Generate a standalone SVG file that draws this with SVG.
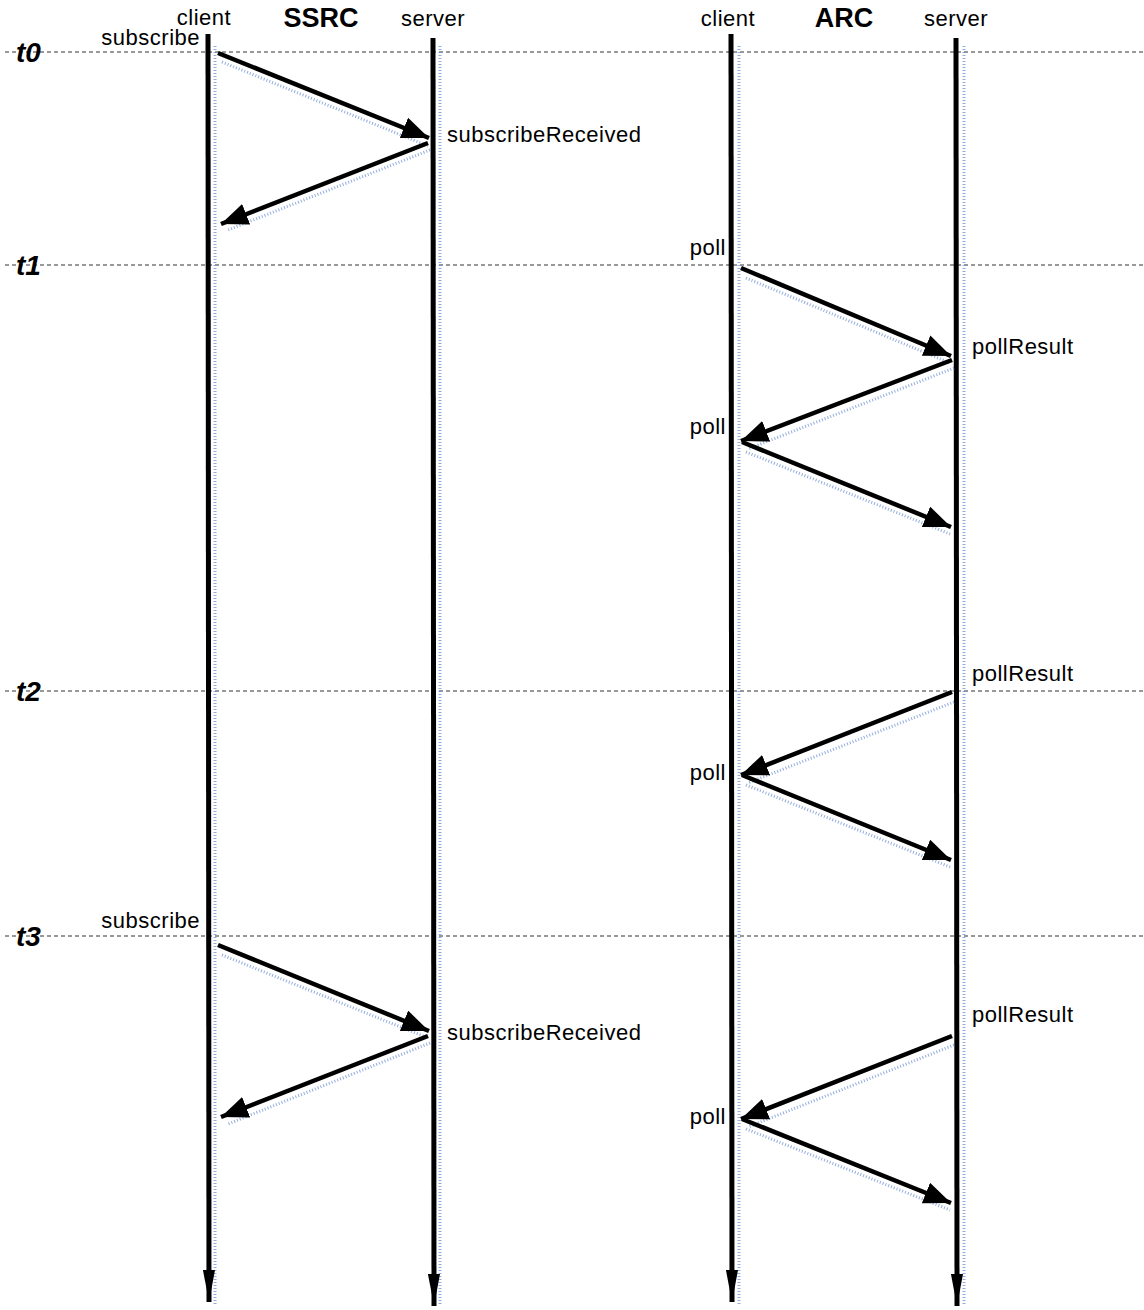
<svg xmlns="http://www.w3.org/2000/svg" width="1144" height="1310" viewBox="0 0 1144 1310">
<style>
.t{font-family:"Liberation Sans",Arial,sans-serif;font-size:22px;letter-spacing:0.5px;fill:#000}
.h{font-family:"Liberation Sans",Arial,sans-serif;font-size:27px;font-weight:bold;fill:#000}
.tm{font-family:"Liberation Sans",Arial,sans-serif;font-size:28px;font-weight:bold;font-style:italic;fill:#000}
.dash{stroke:#333;stroke-width:1;stroke-dasharray:4 3;fill:none}
.life{stroke:#000;stroke-width:5;fill:none}
.msg{stroke:#000;stroke-width:4.5;fill:none}
.sh{stroke:#6f92d0;stroke-width:3;stroke-dasharray:1 2;fill:none;opacity:0.75}
</style>
<defs>
<marker id="ah" markerUnits="userSpaceOnUse" markerWidth="30" markerHeight="24" refX="27" refY="11" orient="auto">
<path d="M0,0 L27,11 L0,22 Z" fill="#000"/>
</marker>
<marker id="lh" markerUnits="userSpaceOnUse" markerWidth="34" markerHeight="12" refX="32" refY="6" orient="auto">
<path d="M0,0 L32,6 L0,12 Z" fill="#000"/>
</marker>
</defs>
<g id="timelines">
<line class="dash" x1="5" y1="52" x2="1144" y2="52"/>
<line class="dash" x1="5" y1="265" x2="1144" y2="265"/>
<line class="dash" x1="5" y1="691" x2="1144" y2="691"/>
<line class="dash" x1="5" y1="936" x2="1144" y2="936"/>
<text class="tm" x="16" y="62">t0</text>
<text class="tm" x="16" y="275">t1</text>
<text class="tm" x="16" y="701">t2</text>
<text class="tm" x="16" y="946">t3</text>
</g>
<g id="headers">
<text class="h" x="321" y="27" text-anchor="middle">SSRC</text>
<text class="h" x="844" y="27" text-anchor="middle">ARC</text>
</g>
<g id="ssrc-client">
<line class="sh" x1="215" y1="46" x2="215" y2="1306"/>
<line class="life" x1="208" y1="34" x2="209" y2="1302" marker-end="url(#lh)"/>
<text class="t" x="204" y="25" text-anchor="middle">client</text>
</g>
<g id="ssrc-server">
<line class="sh" x1="440" y1="46" x2="440" y2="1306"/>
<line class="life" x1="433" y1="38" x2="434" y2="1306" marker-end="url(#lh)"/>
<text class="t" x="433" y="26" text-anchor="middle">server</text>
</g>
<g id="arc-client">
<line class="sh" x1="739" y1="46" x2="739" y2="1306"/>
<line class="life" x1="731" y1="34" x2="732" y2="1302" marker-end="url(#lh)"/>
<text class="t" x="728" y="26" text-anchor="middle">client</text>
</g>
<g id="arc-server">
<line class="sh" x1="964" y1="46" x2="964" y2="1306"/>
<line class="life" x1="956" y1="38" x2="957" y2="1306" marker-end="url(#lh)"/>
<text class="t" x="956" y="26" text-anchor="middle">server</text>
</g>
<g id="connectors">
<g id="shadows">
<line class="sh" x1="222" y1="62" x2="428" y2="146"/>
<line class="sh" x1="430" y1="150" x2="228" y2="230"/>
<line class="sh" x1="222" y1="955" x2="428" y2="1038"/>
<line class="sh" x1="430" y1="1043" x2="228" y2="1124"/>
<line class="sh" x1="746" y1="278" x2="950" y2="363"/>
<line class="sh" x1="954" y1="368" x2="748" y2="449"/>
<line class="sh" x1="746" y1="452" x2="950" y2="534"/>
<line class="sh" x1="954" y1="702" x2="748" y2="783"/>
<line class="sh" x1="746" y1="785" x2="950" y2="867"/>
<line class="sh" x1="954" y1="1045" x2="748" y2="1127"/>
<line class="sh" x1="746" y1="1129" x2="950" y2="1210"/>
</g>
<line class="msg" x1="218" y1="53" x2="429" y2="138" marker-end="url(#ah)"/>
<line class="msg" x1="428" y1="143" x2="221" y2="224" marker-end="url(#ah)"/>
<line class="msg" x1="218" y1="945" x2="429" y2="1031" marker-end="url(#ah)"/>
<line class="msg" x1="428" y1="1036" x2="221" y2="1117" marker-end="url(#ah)"/>
<line class="msg" x1="741" y1="268" x2="951" y2="356" marker-end="url(#ah)"/>
<line class="msg" x1="952" y1="360" x2="741" y2="441" marker-end="url(#ah)"/>
<line class="msg" x1="742" y1="442" x2="951" y2="527" marker-end="url(#ah)"/>
<line class="msg" x1="952" y1="692" x2="741" y2="775" marker-end="url(#ah)"/>
<line class="msg" x1="742" y1="775" x2="951" y2="860" marker-end="url(#ah)"/>
<line class="msg" x1="952" y1="1036" x2="741" y2="1119" marker-end="url(#ah)"/>
<line class="msg" x1="742" y1="1119" x2="951" y2="1203" marker-end="url(#ah)"/>
</g>
<g id="labels">
<text class="t" x="200" y="45" text-anchor="end">subscribe</text>
<text class="t" x="447" y="142">subscribeReceived</text>
<text class="t" x="200" y="928" text-anchor="end">subscribe</text>
<text class="t" x="447" y="1040">subscribeReceived</text>
<text class="t" x="726" y="255" text-anchor="end">poll</text>
<text class="t" x="972" y="354">pollResult</text>
<text class="t" x="726" y="434" text-anchor="end">poll</text>
<text class="t" x="972" y="681">pollResult</text>
<text class="t" x="726" y="780" text-anchor="end">poll</text>
<text class="t" x="972" y="1022">pollResult</text>
<text class="t" x="726" y="1124" text-anchor="end">poll</text>
</g>
</svg>
